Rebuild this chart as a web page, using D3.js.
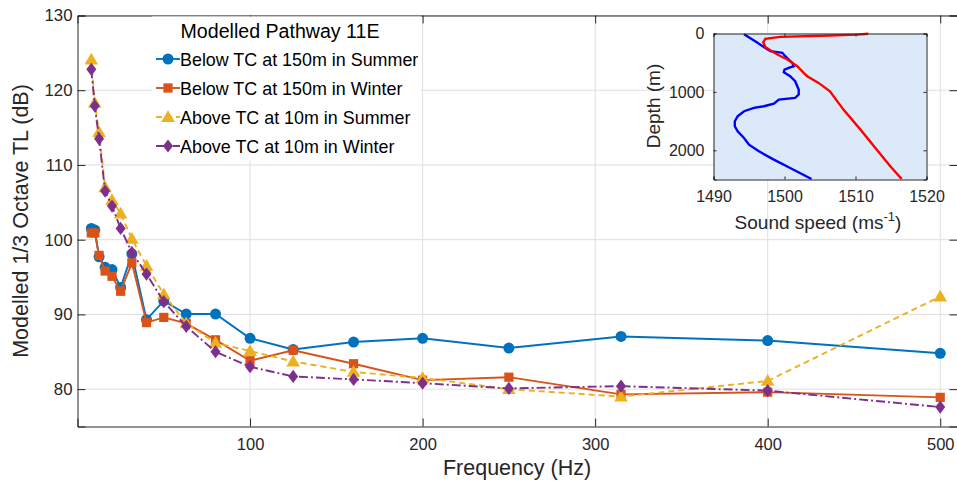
<!DOCTYPE html>
<html>
<head>
<meta charset="utf-8">
<script src="https://cdn.jsdelivr.net/npm/d3@7/dist/d3.min.js"></script>
<style>
    body { margin: 0; background: #fff; }
    svg { display: block; font-family: "Liberation Sans", Arial, sans-serif; }
    .tick text { fill: #262626; }
</style>
</head>
<body>
<svg id="chart" width="957" height="482"></svg>
<script>
/* TL vs frequency, pathway 11E
*/

var freqs = [8, 10, 12.5, 16, 20, 25, 31.5, 40, 50, 63, 80, 100, 125, 160, 200, 250, 315, 400, 500]
var belowSummer = [101.5, 101.3, 97.7, 96.3, 96.0, 93.6, 98.1, 89.3, 91.8, 90.05, 90.05, 86.8, 85.3, 86.3, 86.8, 85.5, 87.05, 86.5, 84.8]
var belowWinter = [100.9, 100.9, 97.9, 95.8, 95.1, 93.1, 96.9, 88.9, 89.6, 88.8, 86.6, 83.8, 85.2, 83.4, 81.2, 81.6, 79.3, 79.6, 78.9]
var aboveSummer = [124.1, 118.3, 114.4, 107.0, 105.3, 103.5, 100.1, 96.5, 92.7, 88.8, 86.2, 85.1, 83.7, 82.3, 81.5, 80.0, 79.0, 81.1, 92.4]
var aboveWinter = [122.8, 117.9, 113.5, 106.5, 104.5, 101.5, 98.3, 95.4, 91.7, 88.4, 85.0, 83.0, 81.7, 81.3, 80.8, 80.1, 80.4, 79.8, 77.6]

var seriesNames = ['Below TC at 150m in Summer', 'Below TC at 150m in Winter', 'Above TC at 10m in Summer', 'Above TC at 10m in Winter']
var xTicks = [100, 200, 300, 400, 500]
var yTicks = [80, 90, 100, 110, 120, 130]

// sound speed profiles for the inset
var summerSpeed = [1511.8, 1510.2, 1506.4, 1499.4, 1497.3, 1497.0, 1497.3, 1498.0, 1499.0, 1500.4, 1501.8, 1502.7, 1503.2, 1504.8, 1506.4, 1508.3, 1510.7, 1513.0, 1514.9, 1516.5]
var summerDepth = [5, 20, 35, 57, 91, 150, 229, 286, 360, 446, 560, 674, 731, 846, 989, 1303, 1646, 1989, 2274, 2491]
var winterSpeed = [1494.3, 1496.2, 1498.0, 1499.7, 1500.1, 1500.6, 1501.1, 1501.3, 1500.6, 1500.0, 1499.9, 1500.8, 1501.5, 1502.0, 1502.0, 1501.5, 1499.2, 1498.5, 1497.1, 1495.7, 1494.3, 1493.4, 1493.0, 1493.0, 1493.4, 1494.3, 1495.0, 1496.4, 1498.5, 1500.8, 1503.8]
var winterDepth = [11, 160, 303, 331, 389, 446, 503, 560, 589, 617, 663, 731, 817, 960, 1046, 1103, 1131, 1200, 1246, 1274, 1331, 1417, 1503, 1589, 1674, 1789, 1903, 2017, 2160, 2303, 2491]
var insetXTicks = [1490, 1500, 1510, 1520]
var insetYTicks = [0, 1000, 2000]

var svg = d3.select('#chart')
var pl = 77.5, pr = 957.5, pt = 15.5, pb = 426.5
var x = d3.scaleLinear().domain([0, 510]).range([pl, pr])
var y = d3.scaleLinear().domain([75, 130]).range([pb, pt])

var styles = [
    {color: '#0072BD', dash: null, marker: 'circle'},
    {color: '#D95319', dash: null, marker: 'square'},
    {color: '#EDB120', dash: '6,4', marker: 'triangle'},
    {color: '#7E2F8E', dash: '9,3,2,3', marker: 'diamond'}
]
var allSeries = [belowSummer, belowWinter, aboveSummer, aboveWinter]

// grid
svg.append('g').selectAll('line').data(xTicks).enter().append('line')
    .attr('x1', function(d) { return x(d) }).attr('x2', function(d) { return x(d) })
    .attr('y1', pt).attr('y2', pb)
    .attr('stroke', '#dfdfdf').attr('stroke-width', 1)
svg.append('g').selectAll('line').data(yTicks).enter().append('line')
    .attr('x1', pl).attr('x2', pr)
    .attr('y1', function(d) { return y(d) }).attr('y2', function(d) { return y(d) })
    .attr('stroke', '#dfdfdf').attr('stroke-width', 1)

function drawMarker(g, kind, color, cx, cy) {
    if (kind == 'circle') {
        g.append('circle').attr('cx', cx).attr('cy', cy).attr('r', 5.5).attr('fill', color)
    } else if (kind == 'square') {
        g.append('rect').attr('x', cx - 4.6).attr('y', cy - 4.6).attr('width', 9.2).attr('height', 9.2).attr('fill', color)
    } else if (kind == 'triangle') {
        g.append('path').attr('d', d3.symbol().type(d3.symbolTriangle).size(80)).attr('transform', 'translate(' + cx + ',' + (cy + 1) + ')').attr('fill', color)
    } else {
        g.append('path').attr('d', 'M0,-6.6L5,0L0,6.6L-5,0Z').attr('transform', 'translate(' + cx + ',' + cy + ')').attr('fill', color)
    }
}

var line = d3.line().x(function(d) { return x(d[0]) }).y(function(d) { return y(d[1]) })

allSeries.forEach(function(vals, i) {
    var st = styles[i]
    var pts = freqs.map(function(f, j) { return [f, vals[j]] })
    var g = svg.append('g')
    g.append('path').datum(pts).attr('d', line)
        .attr('fill', 'none').attr('stroke', st.color).attr('stroke-width', 1.9)
        .attr('stroke-dasharray', st.dash)
    pts.forEach(function(p) { drawMarker(g, st.marker, st.color, x(p[0]), y(p[1])) })
})

// axes
var xAxis = svg.append('g').attr('transform', 'translate(0,' + pb + ')')
    .call(d3.axisBottom(x).tickValues(xTicks).tickSize(-8).tickPadding(12))
var yAxis = svg.append('g').attr('transform', 'translate(' + pl + ',0)')
    .call(d3.axisLeft(y).tickValues(yTicks).tickSize(-8).tickPadding(5))
svg.append('g').attr('transform', 'translate(0,' + pt + ')')
    .call(d3.axisTop(x).tickValues(xTicks).tickSize(-8).tickFormat(''))
svg.append('g').attr('transform', 'translate(' + pr + ',0)')
    .call(d3.axisRight(y).tickValues(yTicks).tickSize(-8).tickFormat(''))
svg.selectAll('.domain').attr('stroke', '#262626')
svg.selectAll('.tick line').attr('stroke', '#262626')
xAxis.selectAll('text').attr('font-size', 16.5)
yAxis.selectAll('text').attr('font-size', 16.8)

svg.append('text').attr('x', 517).attr('y', 475)
    .attr('text-anchor', 'middle').attr('font-size', 21.5).attr('fill', '#262626')
    .text('Frequency (Hz)')
svg.append('text').attr('transform', 'translate(28,' + ((pt + pb) / 2) + ') rotate(-90)')
    .attr('text-anchor', 'middle').attr('font-size', 21.5).attr('fill', '#262626')
    .text('Modelled 1/3 Octave TL (dB)')

// legend
var leg = svg.append('g')
leg.append('rect').attr('x', 152).attr('y', 16.5).attr('width', 269).attr('height', 144).attr('fill', '#fff')
leg.append('text').attr('x', 280).attr('y', 38).attr('text-anchor', 'middle')
    .attr('font-size', 19.6).attr('fill', '#000').text('Modelled Pathway 11E')
seriesNames.forEach(function(name, i) {
    var ly = 59 + i * 29
    var st = styles[i]
    leg.append('line').attr('x1', 156).attr('x2', 180).attr('y1', ly).attr('y2', ly)
        .attr('stroke', st.color).attr('stroke-width', 1.9).attr('stroke-dasharray', st.dash)
    drawMarker(leg, st.marker, st.color, 168, ly)
    leg.append('text').attr('x', 180).attr('y', ly + 6.5).attr('font-size', 17.9).attr('fill', '#000').text(name)
})

// inset
var il = 713.5, ir = 926.5, it = 33.5, ib = 179.5
var ix = d3.scaleLinear().domain([1490, 1520]).range([il, ir])
var iy = d3.scaleLinear().domain([0, 2500]).range([it, ib])
var inset = svg.append('g')
inset.append('rect').attr('x', il).attr('y', it).attr('width', ir - il).attr('height', ib - it).attr('fill', '#dce9f8')
var iline = d3.line().x(function(d) { return ix(d[0]) }).y(function(d) { return iy(d[1]) })
inset.append('path').datum(winterSpeed.map(function(s, j) { return [s, winterDepth[j]] }))
    .attr('d', iline).attr('fill', 'none').attr('stroke', '#0000ff').attr('stroke-width', 2.4)
inset.append('path').datum(summerSpeed.map(function(s, j) { return [s, summerDepth[j]] }))
    .attr('d', iline).attr('fill', 'none').attr('stroke', '#ff0000').attr('stroke-width', 2.4)
var ixa = inset.append('g').attr('transform', 'translate(0,' + ib + ')')
    .call(d3.axisBottom(ix).tickValues(insetXTicks).tickSize(-3).tickPadding(11).tickFormat(d3.format('d')))
var iya = inset.append('g').attr('transform', 'translate(' + il + ',0)')
    .call(d3.axisLeft(iy).tickValues(insetYTicks).tickSize(-3).tickPadding(9).tickFormat(d3.format('d')))
inset.append('g').attr('transform', 'translate(0,' + it + ')')
    .call(d3.axisTop(ix).tickValues(insetXTicks).tickSize(-3).tickFormat(''))
inset.append('g').attr('transform', 'translate(' + ir + ',0)')
    .call(d3.axisRight(iy).tickValues(insetYTicks).tickSize(-3).tickFormat(''))
inset.selectAll('.domain').attr('stroke', '#262626')
inset.selectAll('.tick line').attr('stroke', '#262626')
ixa.selectAll('text').attr('font-size', 16)
iya.selectAll('text').attr('font-size', 16)
var xl = inset.append('text').attr('x', 818).attr('y', 229)
    .attr('text-anchor', 'middle').attr('font-size', 19).attr('fill', '#262626')
xl.append('tspan').text('Sound speed (ms')
xl.append('tspan').attr('dy', -8).attr('font-size', 13).text('-1')
xl.append('tspan').attr('dy', 8).text(')')
inset.append('text').attr('transform', 'translate(660,106) rotate(-90)')
    .attr('text-anchor', 'middle').attr('font-size', 19).attr('fill', '#262626')
    .text('Depth (m)')
</script>
</body>
</html>
